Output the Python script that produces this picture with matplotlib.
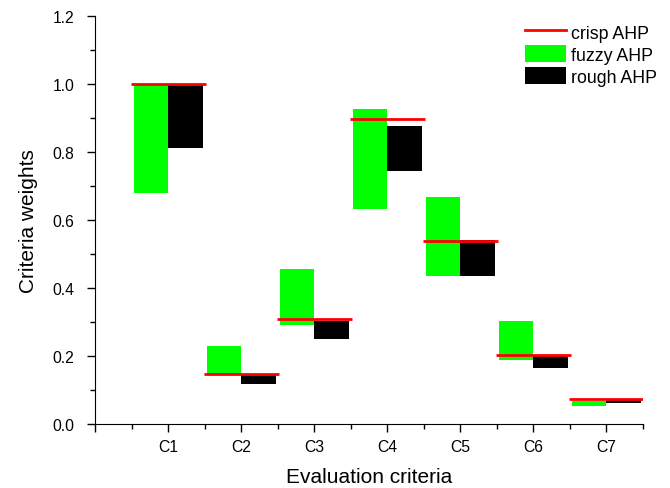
import numpy as np
import matplotlib
matplotlib.use('Agg')
import matplotlib.pyplot as plt
from matplotlib.patches import Patch
from matplotlib.lines import Line2D
from matplotlib.ticker import MultipleLocator, FormatStrFormatter

plt.rcParams['font.family'] = ['Liberation Sans', 'DejaVu Sans']

criteria = ['C1', 'C2', 'C3', 'C4', 'C5', 'C6', 'C7']
crisp = [1.0, 0.148, 0.309, 0.898, 0.538, 0.203, 0.073]
fuzzy_low = [0.679, 0.148, 0.291, 0.632, 0.436, 0.187, 0.052]
fuzzy_high = [1.0, 0.230, 0.456, 0.927, 0.667, 0.304, 0.068]
rough_low = [0.812, 0.118, 0.250, 0.745, 0.436, 0.164, 0.061]
rough_high = [1.0, 0.148, 0.303, 0.877, 0.542, 0.202, 0.071]

x = np.arange(1, len(criteria) + 1)
fuzzy_low = np.array(fuzzy_low)
fuzzy_high = np.array(fuzzy_high)
rough_low = np.array(rough_low)
rough_high = np.array(rough_high)

fig = plt.figure(figsize=(6.7, 4.89), dpi=100)
ax = fig.add_axes([0.1418, 0.1309, 0.959 - 0.1418, 0.965 - 0.1309])

# floating bars: fuzzy on the left half, rough on the right half
ax.bar(x - 0.46, fuzzy_high - fuzzy_low, width=0.46, bottom=fuzzy_low,
       align='edge', color='#00ff00', linewidth=0, zorder=2)
ax.bar(x, rough_high - rough_low, width=0.48, bottom=rough_low,
       align='edge', color='black', linewidth=0, zorder=2)
ax.hlines(crisp, x - 0.51, x + 0.52, colors='red', linewidth=2, zorder=3)

ax.set_xlim(0, 7.5)
ax.set_ylim(0, 1.2)
ax.set_xticks(np.arange(0, 8))
ax.set_xticklabels([''] + criteria)
ax.xaxis.set_minor_locator(MultipleLocator(0.5))
ax.yaxis.set_major_locator(MultipleLocator(0.2))
ax.yaxis.set_minor_locator(MultipleLocator(0.1))
ax.yaxis.set_major_formatter(FormatStrFormatter('%.1f'))

for s in ['top', 'right']:
    ax.spines[s].set_visible(False)
ax.tick_params(which='major', length=6, width=1, labelsize=11.3, direction='out')
ax.tick_params(which='minor', length=3.5, width=1, direction='out')
ax.tick_params(axis='x', which='major', pad=5)
ax.tick_params(axis='y', which='major', pad=9)

ax.set_xlabel('Evaluation criteria', fontsize=15)
ax.set_ylabel('Criteria weights', fontsize=15)
ax.xaxis.set_label_coords(0.5, -0.105)
ax.yaxis.set_label_coords(-0.104, 0.5)

handles = [Line2D([0], [0], color='red', lw=2),
           Patch(facecolor='#00ff00', edgecolor='none'),
           Patch(facecolor='black', edgecolor='none')]
fig.legend(handles, ['crisp AHP', 'fuzzy AHP', 'rough AHP'], loc='upper left',
           frameon=False, fontsize=12.8, handlelength=2.3, handleheight=1.1,
           handletextpad=0.3, labelspacing=0.2, borderpad=0, borderaxespad=0,
           bbox_to_anchor=(525 / 670, 1 - 24 / 489))

fig.savefig('out.png', dpi=100)
